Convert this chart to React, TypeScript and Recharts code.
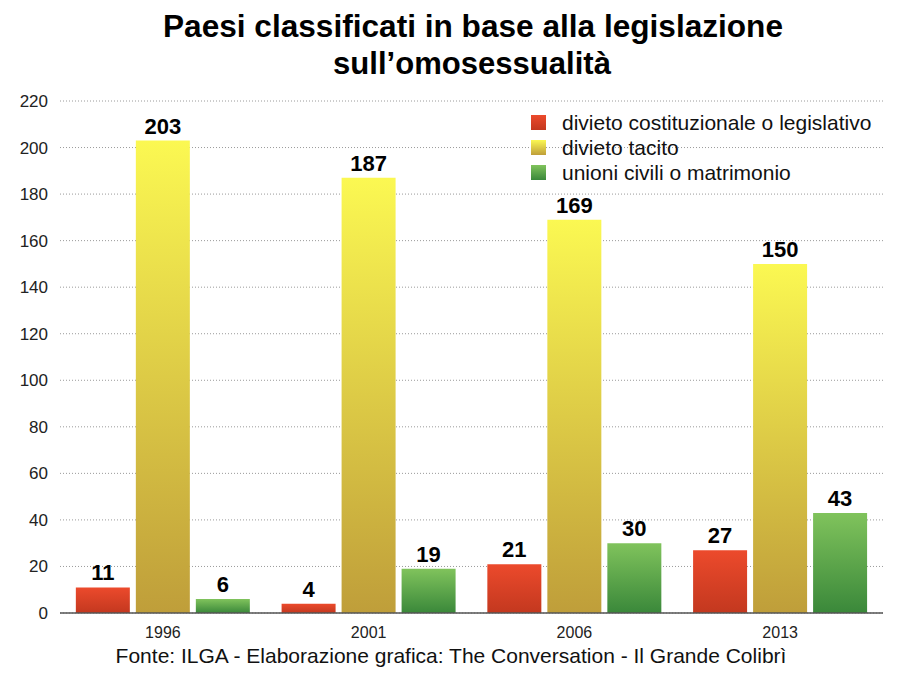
import React from "react";
import { BarChart, Bar, XAxis, YAxis, CartesianGrid, LabelList } from "recharts";

const years = ["1996", "2001", "2006", "2013"];
const divietoLegale = [11, 4, 21, 27];
const divietoTacito = [203, 187, 169, 150];
const unioniCivili = [6, 19, 30, 43];
const yTicks = [0, 20, 40, 60, 80, 100, 120, 140, 160, 180, 200, 220];

const series = [
  { key: "legale", name: "divieto costituzionale o legislativo", top: "#ec4a2c", bottom: "#c3381f" },
  { key: "tacito", name: "divieto tacito", top: "#fbf852", bottom: "#bf9e3a" },
  { key: "unioni", name: "unioni civili o matrimonio", top: "#80c35c", bottom: "#3a883a" },
];

const data = years.map((year, i) => ({
  year,
  legale: divietoLegale[i],
  tacito: divietoTacito[i],
  unioni: unioniCivili[i],
}));

const font = "'Liberation Sans', Arial, Helvetica, sans-serif";

export default function App() {
  return (
    <div style={{ position: "relative", width: 900, height: 675, margin: -8, background: "#fff", fontFamily: font }}>
      <BarChart
        width={900}
        height={675}
        data={data}
        margin={{ top: 101, right: 17, bottom: 32, left: 0 }}
        barCategoryGap="7.7%"
        barGap={6}
      >
        <defs>
          {series.map((s) => (
            <linearGradient key={s.key} id={`grad-${s.key}`} x1="0" y1="0" x2="0" y2="1">
              <stop offset="0%" stopColor={s.top} />
              <stop offset="100%" stopColor={s.bottom} />
            </linearGradient>
          ))}
        </defs>
        <CartesianGrid vertical={false} stroke="#9a9a9a" strokeDasharray="1 2" />
        <XAxis
          dataKey="year"
          axisLine={{ stroke: "#555", strokeWidth: 1.5 }}
          tickLine={false}
          tick={{ fill: "#222", fontSize: 16, fontFamily: font }}
          tickMargin={8}
        />
        <YAxis
          width={60}
          domain={[0, 220]}
          ticks={yTicks}
          interval={0}
          axisLine={false}
          tickLine={false}
          tickMargin={6}
          tick={{ fill: "#222", fontSize: 17, fontFamily: font }}
        />
        {series.map((s) => (
          <Bar key={s.key} dataKey={s.key} name={s.name} fill={`url(#grad-${s.key})`} isAnimationActive={false}>
            <LabelList
              dataKey={s.key}
              position="top"
              offset={7}
              style={{ fill: "#000", fontSize: 22, fontWeight: "bold", fontFamily: font }}
            />
          </Bar>
        ))}
      </BarChart>

      <svg style={{ position: "absolute", left: 0, top: 0 }} width={900} height={675}>
        <defs>
          {series.map((s) => (
            <linearGradient key={s.key} id={`leg-${s.key}`} x1="0" y1="0" x2="0" y2="1">
              <stop offset="0%" stopColor={s.top} />
              <stop offset="100%" stopColor={s.bottom} />
            </linearGradient>
          ))}
        </defs>
        <text
          x={473}
          y={37}
          textAnchor="middle"
          fontSize={32}
          fontWeight="bold"
          fill="#000"
          fontFamily={font}
          textLength={620}
          lengthAdjust="spacingAndGlyphs"
        >
          Paesi classificati in base alla legislazione
        </text>
        <text
          x={472}
          y={74}
          textAnchor="middle"
          fontSize={32}
          fontWeight="bold"
          fill="#000"
          fontFamily={font}
          textLength={278}
          lengthAdjust="spacingAndGlyphs"
        >
          sull’omosessualità
        </text>
        {series.map((s, i) => (
          <g key={s.key}>
            <rect x={531} y={115 + i * 25} width={15} height={15} fill={`url(#leg-${s.key})`} />
            <text x={562} y={130 + i * 25} fontSize={21} fill="#111" fontFamily={font}>
              {s.name}
            </text>
          </g>
        ))}
        <text x={451} y={663} textAnchor="middle" fontSize={21} fill="#111" fontFamily={font}>
          Fonte: ILGA - Elaborazione grafica: The Conversation - Il Grande Colibrì
        </text>
      </svg>
    </div>
  );
}
